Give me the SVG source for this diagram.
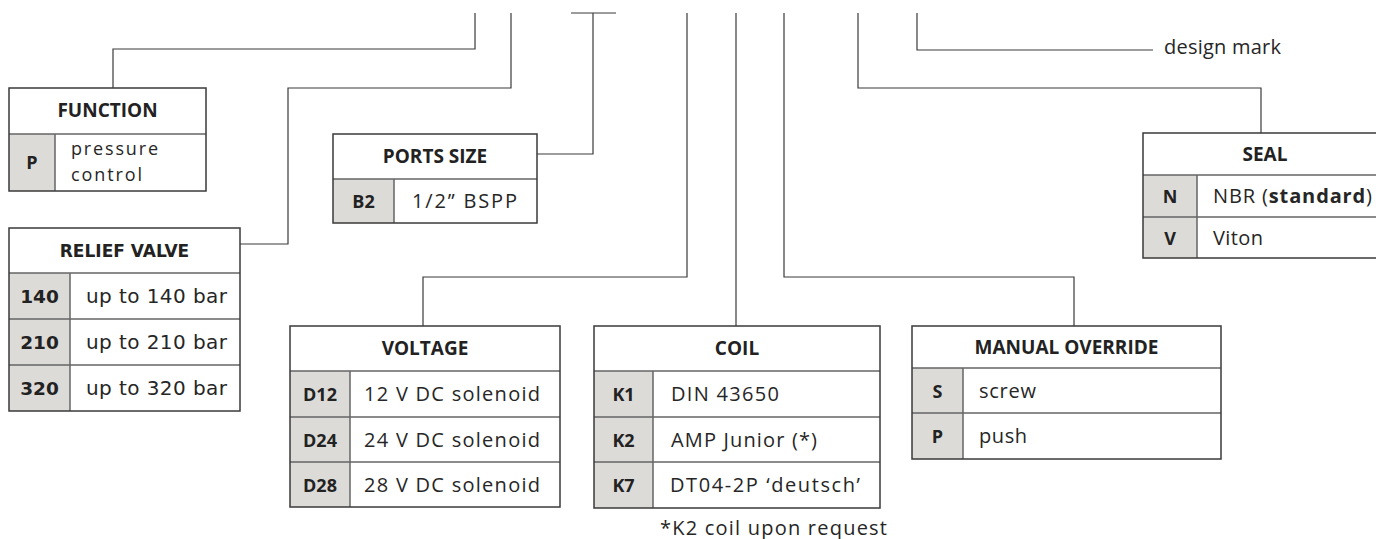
<svg xmlns="http://www.w3.org/2000/svg" width="1376" height="539" viewBox="0 0 1376 539">
<style>
.bg{fill:#fff}
.box{fill:none;stroke:#3a3a3a;stroke-width:1.5}
.code{fill:#dddbd8}
.dv{stroke:#666;stroke-width:1.5;fill:none}
.hdr{font-family:"Open Sans","Noto Sans",sans-serif;font-weight:700;font-size:19px;fill:#222;text-anchor:middle}
.cd{font-family:"Open Sans","Noto Sans",sans-serif;font-weight:700;font-size:18px;fill:#222;text-anchor:middle}
.ds{font-family:"Open Sans","Noto Sans",sans-serif;font-size:20px;fill:#262626}
.fs{font-family:"Open Sans","Noto Sans",sans-serif;font-size:18px;fill:#262626}
.rh{font-family:"DejaVu Sans",sans-serif;font-weight:700;font-size:17px;fill:#222;text-anchor:middle}
.rc{font-family:"DejaVu Sans",sans-serif;font-weight:700;font-size:18.5px;fill:#222;text-anchor:middle}
.rd{font-family:"DejaVu Sans",sans-serif;font-size:20px;fill:#262626}
.conn{fill:none;stroke:#3a3a3a;stroke-width:1.2}
</style>
<rect class="bg" x="0" y="0" width="1376" height="539"/>
<g id="connectors">
<path class="conn" d="M475,13 V49 H113 V88"/>
<path class="conn" d="M511,13 V88 H288 V244 H240"/>
<path class="conn" d="M571,13 H616 M593,13 V154 H537"/>
<path class="conn" d="M687,13 V277 H423 V326"/>
<path class="conn" d="M736,13 V326"/>
<path class="conn" d="M784,13 V277 H1074 V326"/>
<path class="conn" d="M858,13 V88 H1261 V133"/>
<path class="conn" d="M917,13 V50 H1153"/>
</g>
<g id="function">
<rect class="bg" x="9" y="88" width="197" height="103"/>
<rect class="code" x="9" y="134" width="46" height="57"/>
<path class="dv" d="M9,134 H206 M55,134 V191"/>
<rect class="box" x="9" y="88" width="197" height="103"/>
<text class="hdr" x="107.5" y="117">FUNCTION</text>
<text class="cd" x="32" y="168.5">P</text>
<text class="fs" x="71" y="154.5" textLength="87" lengthAdjust="spacing">pressure</text>
<text class="fs" x="71" y="180.5" textLength="71" lengthAdjust="spacing">control</text>
</g>
<g id="relief-valve">
<rect class="bg" x="9" y="228" width="231" height="183"/>
<rect class="code" x="9" y="273" width="61" height="138"/>
<path class="dv" d="M9,273 H240 M9,319 H240 M9,365 H240 M70,273 V411"/>
<rect class="box" x="9" y="228" width="231" height="183"/>
<text class="rh" x="124.5" y="256.5">RELIEF VALVE</text>
<text class="rc" x="39.5" y="303">140</text>
<text class="rc" x="39.5" y="349">210</text>
<text class="rc" x="39.5" y="395">320</text>
<text class="rd" x="86" y="303" textLength="141" lengthAdjust="spacing">up to 140 bar</text>
<text class="rd" x="86" y="349" textLength="141" lengthAdjust="spacing">up to 210 bar</text>
<text class="rd" x="86" y="395" textLength="141" lengthAdjust="spacing">up to 320 bar</text>
</g>
<g id="ports-size">
<rect class="bg" x="333" y="134" width="204" height="89"/>
<rect class="code" x="333" y="179" width="61" height="44"/>
<path class="dv" d="M333,179 H537 M394,179 V223"/>
<rect class="box" x="333" y="134" width="204" height="89"/>
<text class="hdr" x="435" y="163">PORTS SIZE</text>
<text class="cd" x="363.5" y="208">B2</text>
<text class="ds" x="412" y="208" textLength="105" lengthAdjust="spacing">1/2” BSPP</text>
</g>
<g id="voltage">
<rect class="bg" x="290" y="326" width="270" height="181"/>
<rect class="code" x="290" y="371" width="60" height="136"/>
<path class="dv" d="M290,371 H560 M290,417 H560 M290,462 H560 M350,371 V507"/>
<rect class="box" x="290" y="326" width="270" height="181"/>
<text class="hdr" x="425" y="355">VOLTAGE</text>
<text class="cd" x="320" y="400.5">D12</text>
<text class="cd" x="320" y="446.5">D24</text>
<text class="cd" x="320" y="491.5">D28</text>
<text class="ds" x="364" y="400.5" textLength="176" lengthAdjust="spacing">12 V DC solenoid</text>
<text class="ds" x="364" y="446.5" textLength="176" lengthAdjust="spacing">24 V DC solenoid</text>
<text class="ds" x="364" y="491.5" textLength="176" lengthAdjust="spacing">28 V DC solenoid</text>
</g>
<g id="coil">
<rect class="bg" x="594" y="326" width="286" height="182"/>
<rect class="code" x="594" y="371" width="59" height="137"/>
<path class="dv" d="M594,371 H880 M594,417 H880 M594,462 H880 M653,371 V508"/>
<rect class="box" x="594" y="326" width="286" height="182"/>
<text class="hdr" x="737" y="355">COIL</text>
<text class="cd" x="623.5" y="400.5">K1</text>
<text class="cd" x="623.5" y="446.5">K2</text>
<text class="cd" x="623.5" y="491.5">K7</text>
<text class="ds" x="671" y="400.5" textLength="108" lengthAdjust="spacing">DIN 43650</text>
<text class="ds" x="671" y="446.5" textLength="146" lengthAdjust="spacing">AMP Junior (*)</text>
<text class="ds" x="670" y="491.5" textLength="190" lengthAdjust="spacing">DT04-2P ‘deutsch’</text>
</g>
<text id="footnote" class="ds" x="660" y="535" textLength="227" lengthAdjust="spacing">*K2 coil upon request</text>
<g id="manual-override">
<rect class="bg" x="912" y="326" width="309" height="133"/>
<rect class="code" x="912" y="368" width="51" height="91"/>
<path class="dv" d="M912,368 H1221 M912,413 H1221 M963,368 V459"/>
<rect class="box" x="912" y="326" width="309" height="133"/>
<text class="hdr" x="1066.5" y="353.5">MANUAL OVERRIDE</text>
<text class="cd" x="937.5" y="397.5">S</text>
<text class="cd" x="937.5" y="443">P</text>
<text class="ds" x="979" y="397.5" textLength="57" lengthAdjust="spacing">screw</text>
<text class="ds" x="979" y="443" textLength="48" lengthAdjust="spacing">push</text>
</g>
<g id="seal">
<rect class="bg" x="1143" y="133" width="244" height="125"/>
<rect class="code" x="1143" y="175" width="54" height="83"/>
<path class="dv" d="M1143,175 H1387 M1143,217 H1387 M1197,175 V258"/>
<rect class="box" x="1143" y="133" width="244" height="125"/>
<text class="hdr" x="1265" y="160.5">SEAL</text>
<text class="cd" x="1170" y="203">N</text>
<text class="cd" x="1170" y="244.5">V</text>
<text class="ds" x="1213" y="203" textLength="159" lengthAdjust="spacing">NBR (<tspan font-weight="700">standard</tspan>)</text>
<text class="ds" x="1213" y="244.5" textLength="50" lengthAdjust="spacing">Viton</text>
</g>
<text id="design-mark" class="ds" x="1164" y="53.5" textLength="117" lengthAdjust="spacing">design mark</text>
</svg>
